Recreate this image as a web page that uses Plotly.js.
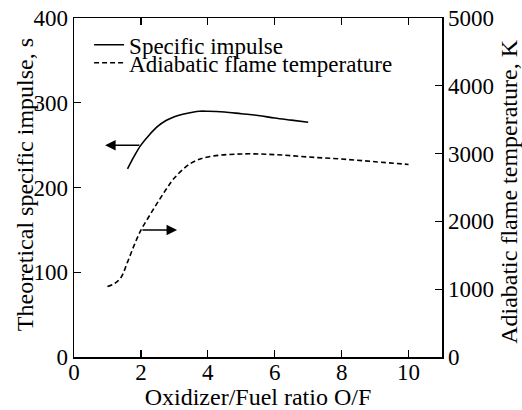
<!DOCTYPE html>
<html><head><meta charset="utf-8">
<script src="https://cdn.plot.ly/plotly-3.0.1.min.js"></script>
<style>html,body{margin:0;padding:0;background:#fff}#chart{width:522px;height:410px}</style>
</head><body><div id="chart"></div>
<script>
// Specific impulse (s) vs O/F
const ofIsp = [1.6, 1.8, 2.0, 2.25, 2.5, 2.75, 3.0, 3.25, 3.5, 3.75, 4.0, 4.5, 5.0, 5.5, 6.0, 6.5, 7.0];
const isp   = [222, 237, 250, 262, 272, 279, 283.5, 286.5, 288.5, 290, 290, 289, 287, 285, 282, 279.5, 277];
// Adiabatic flame temperature (K) vs O/F
const ofTemp = [1.0, 1.2, 1.4, 1.6, 1.8, 2.0, 2.25, 2.5, 2.75, 3.0, 3.5, 4.0, 5.0, 6.0, 7.0, 8.0, 9.0, 10.0];
const temp   = [1040, 1080, 1170, 1400, 1650, 1870, 2080, 2280, 2470, 2640, 2860, 2950, 2995, 2985, 2950, 2920, 2880, 2840];
// Axis ticks
const xTicks = [0, 2, 4, 6, 8, 10];
const yTicks = [0, 100, 200, 300, 400];
const y2Ticks = [0, 1000, 2000, 3000, 4000, 5000];
// Titles
const xTitle = 'Oxidizer/Fuel ratio O/F';
const yTitle = 'Theoretical specific impulse, s';
const y2Title = 'Adiabatic flame temperature, K';
// Arrow anchors (which axis each curve belongs to)
const ispArrow = {from: 2.0, to: 0.93, level: 250};
const tempArrow = {from: 2.0, to: 3.08, level: 1873};

const FONT = "'Liberation Serif', 'Times New Roman', Times, serif";
const traces = [
  {x: ofIsp, y: isp, type: 'scatter', mode: 'lines', name: 'Specific impulse',
   line: {color: '#000', width: 1.6, shape: 'spline'}, legend: 'legend'},
  {x: ofTemp, y: temp, type: 'scatter', mode: 'lines', name: 'Adiabatic flame temperature',
   yaxis: 'y2', line: {color: '#000', width: 1.6, dash: '5px,3px', shape: 'spline'}, legend: 'legend2'}
];
const axisCommon = {showgrid: false, zeroline: false, showline: true, linecolor: '#000', linewidth: 1.5,
  ticks: 'inside', ticklen: 7, tickwidth: 1.3, tickcolor: '#000', tickfont: {family: FONT, size: 23, color: '#000'}};
const legendCommon = {xanchor: 'left', yanchor: 'middle', bgcolor: 'rgba(0,0,0,0)', borderwidth: 0,
  font: {family: FONT, size: 23, color: '#000'}};
const titleFont = {family: FONT, size: 24, color: '#000'};
const layout = {
  width: 522, height: 410,
  margin: {l: 74, r: 80, t: 18, b: 53},
  paper_bgcolor: '#fff', plot_bgcolor: '#fff',
  font: {family: FONT, color: '#000'},
  xaxis: Object.assign({}, axisCommon, {range: [0, 11], tickvals: xTicks, mirror: 'ticks', ticklabelstandoff: -6,
    title: {text: xTitle, font: titleFont, standoff: 3}}),
  yaxis: Object.assign({}, axisCommon, {range: [0, 400], tickvals: yTicks}),
  yaxis2: Object.assign({}, axisCommon, {range: [0, 5000], tickvals: y2Ticks, overlaying: 'y', side: 'right'}),
  showlegend: true,
  legend: Object.assign({}, legendCommon, {x: 0.041, y: 0.921}),
  legend2: Object.assign({}, legendCommon, {x: 0.041, y: 0.868}),
  annotations: [
    {text: yTitle, xref: 'paper', yref: 'paper', x: -0.133, y: 0.507, xanchor: 'center', yanchor: 'middle',
     textangle: -90, showarrow: false, font: titleFont},
    {text: y2Title, xref: 'paper', yref: 'paper', x: 1.182, y: 0.49, xanchor: 'center', yanchor: 'middle',
     textangle: -90, showarrow: false, font: titleFont},
    {x: ispArrow.to, y: ispArrow.level, ax: ispArrow.from, ay: ispArrow.level, xref: 'x', yref: 'y',
     axref: 'x', ayref: 'y', showarrow: true, arrowhead: 2, arrowsize: 1.4, arrowwidth: 1.5, arrowcolor: '#000', text: ''},
    {x: tempArrow.to, y: tempArrow.level, ax: tempArrow.from, ay: tempArrow.level, xref: 'x', yref: 'y2',
     axref: 'x', ayref: 'y2', showarrow: true, arrowhead: 2, arrowsize: 1.4, arrowwidth: 1.5, arrowcolor: '#000', text: ''}
  ]
};
Plotly.newPlot('chart', traces, layout, {displayModeBar: false, staticPlot: true});
</script></body></html>
